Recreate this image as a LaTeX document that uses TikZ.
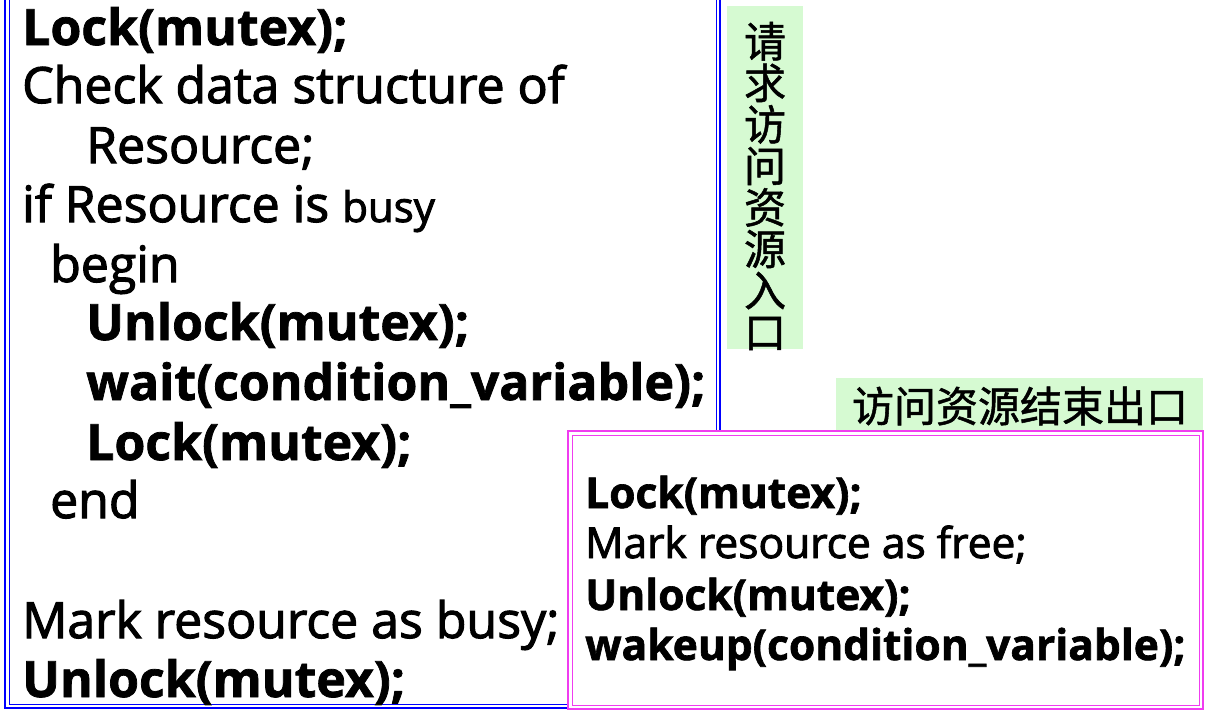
\documentclass[tikz,border=0pt]{standalone}
\usepackage{fontspec}
\setmainfont{Open Sans}[UprightFeatures={FakeBold=2.2},BoldFeatures={FakeBold=1.5}]
\newfontfamily\cjk{Noto Sans CJK SC}[UprightFeatures={FakeBold=1.2}]
\usetikzlibrary{calc}

\definecolor{boxblue}{RGB}{0,0,255}
\definecolor{boxpink}{RGB}{240,60,240}
\definecolor{tagbg}{RGB}{214,250,210}

\begin{document}
\begin{tikzpicture}[x=1pt,y=-1pt,
	bigline/.style={anchor=base west, inner sep=0pt, font=\fontsize{50}{50}\selectfont},
	smallline/.style={anchor=base west, inner sep=0pt, font=\fontsize{42.5}{42.5}\selectfont},
	tagtext/.style={inner sep=0pt, align=center, font=\cjk\fontsize{42}{41.5}\selectfont}]
	\useasboundingbox (0,0) rectangle (1206,720);

	%left box, double blue frame
	\draw[boxblue, line width=2.5pt, fill=white] (5,-3) rectangle (720,708);
	\draw[boxblue, line width=1pt] (9.5,-3) rectangle (716,704);

	%entry tag
	\fill[tagbg] (727,6) rectangle (803,349);
	\node[tagtext] (enter) at (765,186) {请\\求\\访\\问\\资\\源\\入\\口};

	\coordinate (L) at (22,45);
	\node[bigline] (l1) at (L) {\bfseries Lock(mutex);};
	\node[bigline] (l2) at ($(L)+(0,58)$) {Check data structure of};
	\node[bigline] (l3) at ($(L)+(64,118)$) {Resource;};
	\node[bigline] (l4) at ($(L)+(0,177)$) {if Resource is {\fontsize{42}{42}\selectfont busy}};
	\node[bigline] (l5) at ($(L)+(28,237)$) {begin};
	\node[bigline] (l6) at ($(L)+(64,295)$) {\bfseries Unlock(mutex);};
	\node[bigline] (l7) at ($(L)+(64,355)$) {\bfseries wait(condition\_variable);};
	\node[bigline] (l8) at ($(L)+(64,415)$) {\bfseries Lock(mutex);};
	\node[bigline] (l9) at ($(L)+(28,473)$) {end};
	\node[bigline] (l10) at ($(L)+(0,593)$) {Mark resource as busy;};
	\node[bigline] (l11) at ($(L)+(0,652)$) {\bfseries Unlock(mutex);};

	%exit tag
	\fill[tagbg] (836,378) rectangle (1203,431);
	\node[tagtext] (leave) at (1020,406) {访问资源结束出口};

	%right box, double pink frame
	\draw[boxpink, line width=2.5pt, fill=white] (568,431) rectangle (1203,709);
	\draw[boxpink, line width=1pt] (572.5,435) rectangle (1199,705);

	\coordinate (R) at (585,508);
	\node[smallline] (r1) at (R) {\bfseries Lock(mutex);};
	\node[smallline] (r2) at ($(R)+(0,50)$) {Mark resource as free;};
	\node[smallline] (r3) at ($(R)+(0,102)$) {\bfseries Unlock(mutex);};
	\node[smallline] (r4) at ($(R)+(0,152)$) {\bfseries wakeup(condition\_variable);};
\end{tikzpicture}
\end{document}
